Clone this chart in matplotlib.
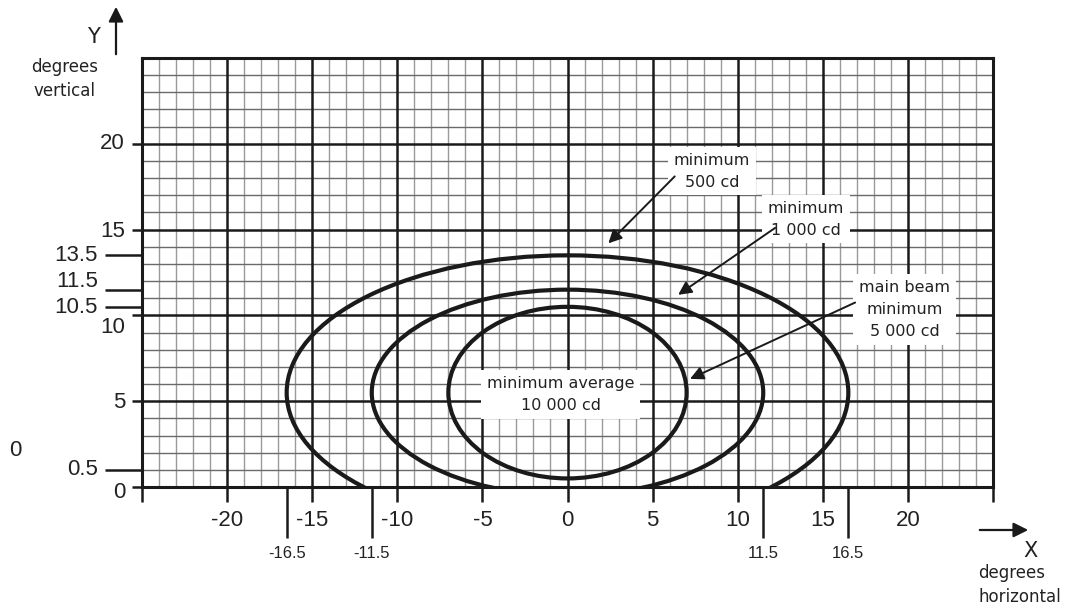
import numpy as np
import matplotlib
matplotlib.use("Agg")
import matplotlib.pyplot as plt
from matplotlib.patches import Ellipse
from matplotlib.transforms import blended_transform_factory

# ---- data ----
x_major = [-20, -15, -10, -5, 0, 5, 10, 15, 20]
x_special = [-16.5, -11.5, 11.5, 16.5]
x_special_labels = ["-16.5", "-11.5", "11.5", "16.5"]
y_major = [0, 5, 10, 15, 20]
y_special_pos = [1, 10.5, 11.5, 13.5]
y_special_labels = ["0.5", "10.5", "11.5", "13.5"]

# ellipses: (half width, top, bottom)
ell_half_width = [16.5, 11.5, 7.0]
ell_top = [13.5, 11.5, 10.5]
ell_bottom = [-2.5, -0.5, 0.5]

# annotations: text, text position, arrow start, arrow tip
ann_texts = ["minimum\n500 cd", "minimum\n1 000 cd", "main beam\nminimum\n5 000 cd"]
ann_text_xy = [(8.5, 18.4), (14.0, 15.6), (19.8, 10.35)]
ann_arrow_start = [(6.3, 18.1), (12.2, 15.1), (16.9, 10.75)]
ann_arrow_tip = [(2.4, 14.2), (6.5, 11.2), (7.2, 6.3)]
center_text = "minimum average\n10 000 cd"
center_text_xy = (-0.4, 5.4)

XMIN, XMAX, YMIN, YMAX = -25, 25, 0, 25

TICKFONT = "Liberation Sans"
ANNFONT = "DejaVu Sans"

fig = plt.figure(figsize=(10.70, 6.11), dpi=100)
ax = fig.add_axes([142/1070, 1-487/611, (993-142)/1070, (487-58)/611])
ax.set_xlim(XMIN, XMAX)
ax.set_ylim(YMIN, YMAX)

# grid
for xv in range(XMIN + 1, XMAX):
    if xv % 5 == 0:
        ax.axvline(xv, color="#1a1a1a", lw=1.8, zorder=2)
    else:
        ax.axvline(xv, color="#9a9a9a", lw=1.0, zorder=1)
for yv in range(YMIN + 1, YMAX):
    if yv % 5 == 0:
        ax.axhline(yv, color="#1a1a1a", lw=1.8, zorder=2)
    else:
        ax.axhline(yv, color="#6a6a6a", lw=1.0, zorder=1)

for s in ax.spines.values():
    s.set_linewidth(2.2)
    s.set_color("#1a1a1a")
ax.set_xticks([])
ax.set_yticks([])

# ellipses
for hw, top, bot in zip(ell_half_width, ell_top, ell_bottom):
    cy = (top + bot) / 2
    e = Ellipse((0, cy), 2 * hw, top - bot, fill=False, lw=3.0,
                edgecolor="#1a1a1a", zorder=4)
    ax.add_patch(e)

# manual ticks
bt_y = blended_transform_factory(ax.transAxes, ax.transData)
bt_x = blended_transform_factory(ax.transData, ax.transAxes)
ppx = 1 / (993 - 142)  # axes fraction per pixel (x)
ppy = 1 / (487 - 58)   # axes fraction per pixel (y)

y_label_offsets = {0: -5, 5: -1, 10: -12, 15: -2, 20: 0}
for yv in y_major:
    ax.plot([-10 * ppx, 0], [yv, yv], transform=bt_y, color="#1a1a1a",
            lw=1.8, clip_on=False, solid_capstyle="butt")
    ax.annotate(str(yv), xy=(-17 * ppx, yv), xycoords=bt_y,
                xytext=(0, y_label_offsets[yv]), textcoords="offset pixels",
                ha="right", va="center", fontsize=16, family=TICKFONT,
                color="#222222", annotation_clip=False)
special_offsets = {"0.5": 0, "10.5": -1, "11.5": 8, "13.5": 0}
for yp, lab in zip(y_special_pos, y_special_labels):
    ax.plot([-37 * ppx, 0], [yp, yp], transform=bt_y, color="#1a1a1a",
            lw=1.8, clip_on=False, solid_capstyle="butt")
    ax.annotate(lab, xy=(-44 * ppx, yp), xycoords=bt_y,
                xytext=(0, special_offsets[lab]), textcoords="offset pixels",
                ha="right", va="center", fontsize=16, family=TICKFONT,
                color="#222222", annotation_clip=False)

for xv in list(range(XMIN, XMAX + 1, 5)):
    ax.plot([xv, xv], [0, -15 * ppy], transform=bt_x, color="#1a1a1a",
            lw=1.8, clip_on=False, solid_capstyle="butt")
for xv in x_major:
    ax.text(xv, -33 * ppy, str(xv), transform=bt_x, ha="center",
            va="center", fontsize=16, family=TICKFONT, color="#222222")
for xp, lab in zip(x_special, x_special_labels):
    ax.plot([xp, xp], [0, -51 * ppy], transform=bt_x, color="#1a1a1a",
            lw=1.8, clip_on=False, solid_capstyle="butt")
    ax.text(xp, -66 * ppy, lab, transform=bt_x, ha="center", va="center",
            fontsize=12, family=TICKFONT, color="#222222")

# annotation labels
box = dict(facecolor="white", edgecolor="none", pad=4)
for t, (tx, ty) in zip(ann_texts, ann_text_xy):
    ax.text(tx, ty, t, ha="center", va="center", fontsize=11.5,
            family=ANNFONT, color="#222222", bbox=box, zorder=5,
            linespacing=1.6)
ax.text(center_text_xy[0], center_text_xy[1], center_text, ha="center",
        va="center", fontsize=11.5, family=ANNFONT, color="#222222",
        bbox=box, zorder=5, linespacing=1.6)
for (sx, sy), (tx, ty) in zip(ann_arrow_start, ann_arrow_tip):
    ax.annotate("", xy=(tx, ty), xytext=(sx, sy),
                arrowprops=dict(arrowstyle="-|>", lw=1.4, color="#1a1a1a",
                                mutation_scale=20, shrinkA=0, shrinkB=0),
                zorder=6)

# stray "0" label on the left
fig.text(15/1070, 1-450/611, "0", ha="center", va="center", fontsize=16,
         family=TICKFONT, color="#222222")

# axis arrows and titles
fig.add_artist(matplotlib.patches.FancyArrowPatch(
    (116/1070, 1-57/611), (116/1070, 1-4/611), transform=fig.transFigure,
    arrowstyle="-|>", mutation_scale=22, lw=1.6, color="#1a1a1a"))
fig.text(93/1070, 1-37/611, "Y", ha="center", va="center", fontsize=15,
         family=ANNFONT, color="#222222")
fig.text(65/1070, 1-79/611, "degrees\nvertical", ha="center", va="center",
         fontsize=12, family=ANNFONT, color="#222222", linespacing=1.5)

fig.add_artist(matplotlib.patches.FancyArrowPatch(
    (977/1070, 1-530/611), (1031/1070, 1-530/611), transform=fig.transFigure,
    arrowstyle="-|>", mutation_scale=22, lw=1.6, color="#1a1a1a"))
fig.text(1030/1070, 1-551/611, "X", ha="center", va="center", fontsize=15,
         family=ANNFONT, color="#222222")
fig.text(978/1070, 1-585/611, "degrees\nhorizontal", ha="left", va="center",
         fontsize=12, family=ANNFONT, color="#222222", linespacing=1.5)

fig.savefig("out.png", dpi=100)
